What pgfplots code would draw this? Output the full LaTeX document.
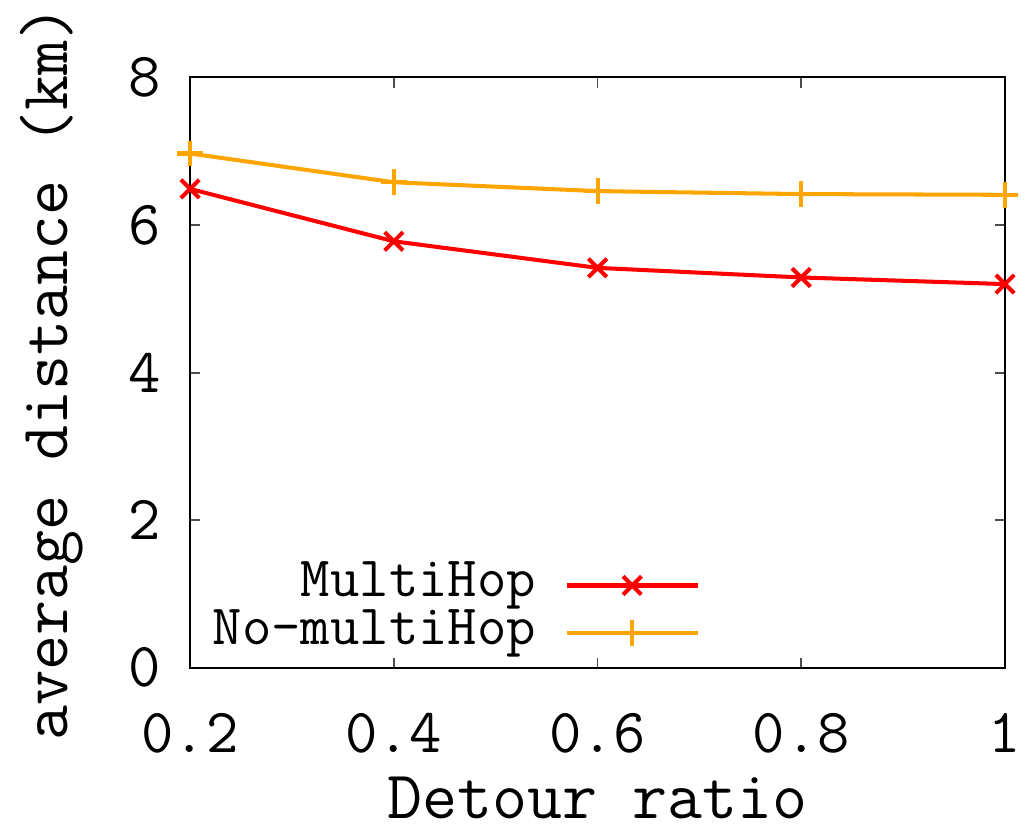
\documentclass[border=0pt]{standalone}
\usepackage{fontspec}
\usepackage{pgfplots}
\pgfplotsset{compat=1.18}
\definecolor{gpred}{RGB}{255,0,0}
\definecolor{gporange}{RGB}{255,165,0}

\begin{document}
\begin{tikzpicture}
\begin{axis}[
    scale only axis,
    width=283pt, height=205pt,
    xmin=0.2, xmax=1, ymin=0, ymax=8,
    xtick={0.2,0.4,0.6,0.8,1},
    ytick={0,2,4,6,8},
    /pgf/number format/assume math mode=true,
    tick label style={font=\ttfamily\fontsize{21.8}{24}\selectfont},
    xticklabel style={anchor=center, yshift=-22.6pt},
    yticklabel style={anchor=east, inner sep=0pt, xshift=-10pt},
    label style={font=\ttfamily\fontsize{23.6}{26}\selectfont},
    xlabel={Detour ratio},
    ylabel={average distance (km)},
    xlabel style={at={(axis description cs:0.5,-0.22)}, anchor=center},
    ylabel style={at={(axis description cs:-0.17,0.5)}, anchor=center},
    tick align=inside,
    major tick length=3.5pt,
    every tick/.style={black!70, line width=0.6pt},
    axis line style={line width=0.7pt},
    legend style={at={(rel axis cs:0.6367,0.008)}, anchor=south east,
        draw=none, fill=none, font=\ttfamily\fontsize{19.8}{22}\selectfont,
        nodes={inner sep=1pt, text height=11pt, text depth=3.3pt},
        row sep=0.3pt},
    legend plot pos=right,
    legend cell align=right,
    legend image code/.code={
        \path[draw=none] (0cm,0cm) -- (0.34cm,0cm);
        \draw[mark repeat=2, mark phase=2] plot coordinates {(0.34cm,0cm) (1.14cm,0cm) (1.94cm,0cm)};
    },
]
\addplot[gpred, line width=1.4pt, mark=x, mark size=4.5pt,
    mark options={line width=1.4pt}] coordinates {
    (0.2,6.49) (0.4,5.78) (0.6,5.42) (0.8,5.29) (1.0,5.20)
};
\addlegendentry{MultiHop}
\addplot[gporange, line width=1.4pt, mark=+, mark size=4.5pt,
    mark options={line width=1.4pt}] coordinates {
    (0.2,6.97) (0.4,6.58) (0.6,6.46) (0.8,6.42) (1.0,6.41)
};
\addlegendentry{No-multiHop}
\end{axis}
\pgfresetboundingbox
\path[use as bounding box] (-66pt,-54.9pt) rectangle (293.75pt,231.9pt);
\end{tikzpicture}
\end{document}
